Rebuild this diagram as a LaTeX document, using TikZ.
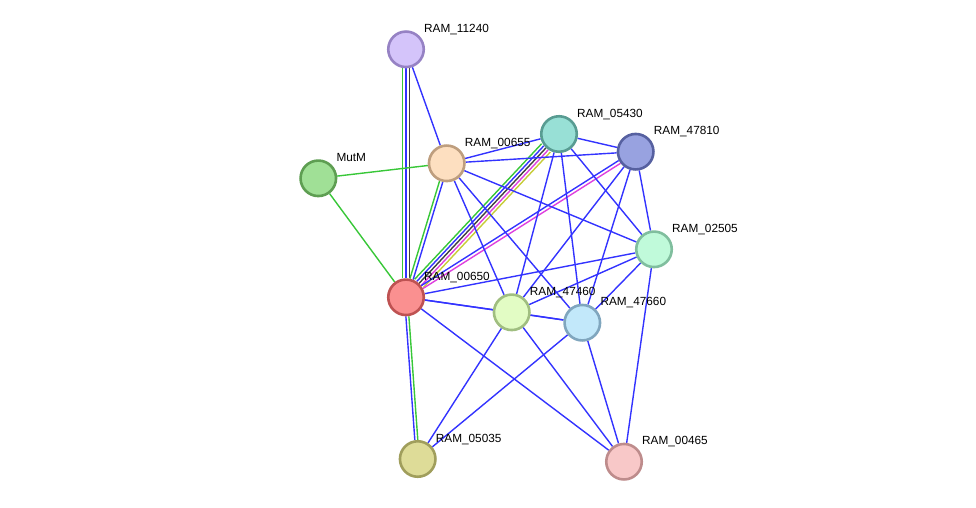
\documentclass[tikz,border=0pt]{standalone}
\usepackage{fontspec}
\setmainfont{Liberation Sans}
\usetikzlibrary{positioning, calc, backgrounds}
\definecolor{edgeblue}{rgb}{0.20, 0.20, 1.00}
\definecolor{edgegreen}{rgb}{0.22, 0.78, 0.22}
\definecolor{edgeblack}{rgb}{0.25, 0.25, 0.25}
\definecolor{edgemagenta}{rgb}{0.87, 0.25, 0.87}
\definecolor{edgeyellow}{rgb}{0.78, 0.80, 0.22}
\tikzset{
  prot/.style={circle, draw, minimum size=35.5pt, inner sep=0pt,
               line width=2.6pt},
  lbl/.style={font=\fontsize{11.8}{13}\selectfont, anchor=base west,
              inner sep=0pt, text=black},
  ev/.style={line width=1.4pt},
  ev blue/.style={ev, edgeblue},
  ev green/.style={ev, edgegreen},
  ev black/.style={ev, edgeblack},
  ev magenta/.style={ev, edgemagenta},
  ev yellow/.style={ev, edgeyellow},
  off/.style={transform canvas={shift={(#1)}}},
}

\begin{document}
\begin{tikzpicture}[x=1pt, y=-1pt]
    \useasboundingbox (0,0) rectangle (976,507);

    % proteins
    \node[prot, fill={rgb,255:red,212;green,196;blue,250}, draw={rgb,255:red,150;green,130;blue,196}] (p11240) at (406,49.3) {};
    \node[prot, fill={rgb,255:red,160;green,224;blue,150}, draw={rgb,255:red,94;green,158;blue,82}] (pmutm) at (318.3,178.3) {};
    \node[prot, fill={rgb,255:red,253;green,223;blue,192}, draw={rgb,255:red,190;green,158;blue,126}] (p00655) at (446.7,163.3) {};
    \node[prot, fill={rgb,255:red,152;green,224;blue,214}, draw={rgb,255:red,88;green,156;blue,146}] (p05430) at (559,134) {};
    \node[prot, fill={rgb,255:red,152;green,162;blue,224}, draw={rgb,255:red,86;green,96;blue,160}] (p47810) at (635.7,151.7) {};
    \node[prot, fill={rgb,255:red,192;green,250;blue,218}, draw={rgb,255:red,128;green,190;blue,158}] (p02505) at (654,249.3) {};
    \node[prot, fill={rgb,255:red,250;green,144;blue,144}, draw={rgb,255:red,190;green,82;blue,82}] (p00650) at (406,297.3) {};
    \node[prot, fill={rgb,255:red,226;green,252;blue,196}, draw={rgb,255:red,160;green,190;blue,128}] (p47460) at (511.7,312.3) {};
    \node[prot, fill={rgb,255:red,194;green,232;blue,250}, draw={rgb,255:red,128;green,166;blue,190}] (p47660) at (582.3,322.7) {};
    \node[prot, fill={rgb,255:red,222;green,220;blue,152}, draw={rgb,255:red,160;green,158;blue,92}] (p05035) at (417.7,459) {};
    \node[prot, fill={rgb,255:red,248;green,200;blue,200}, draw={rgb,255:red,190;green,140;blue,140}] (p00465) at (624,461.7) {};

    % labels
    \node[lbl] (l11240) at ($(p11240)+(18,-17)$) {RAM\_11240};
    \node[lbl] (lmutm) at ($(pmutm)+(18,-17)$) {MutM};
    \node[lbl] (l00655) at ($(p00655)+(18,-17)$) {RAM\_00655};
    \node[lbl] (l05430) at ($(p05430)+(18,-17)$) {RAM\_05430};
    \node[lbl] (l47810) at ($(p47810)+(18,-17)$) {RAM\_47810};
    \node[lbl] (l02505) at ($(p02505)+(18,-17)$) {RAM\_02505};
    \node[lbl] (l00650) at ($(p00650)+(18,-17)$) {RAM\_00650};
    \node[lbl] (l47460) at ($(p47460)+(18,-17)$) {RAM\_47460};
    \node[lbl] (l47660) at ($(p47660)+(18,-17)$) {RAM\_47660};
    \node[lbl] (l05035) at ($(p05035)+(18,-17)$) {RAM\_05035};
    \node[lbl] (l00465) at ($(p00465)+(18,-17)$) {RAM\_00465};

    \begin{scope}[on background layer]
    % multi-evidence edges
    \draw[ev green, off={-3.5,0}] (p11240) -- (p00650);
    \draw[ev blue] (p11240) -- (p00650);
    \draw[ev black, off={3.5,0}] (p11240) -- (p00650);
    \draw[ev green, off={-4.4,-4.1}] (p05430) -- (p00650);
    \draw[ev blue, off={-2.2,-2.05}] (p05430) -- (p00650);
    \draw[ev black] (p05430) -- (p00650);
    \draw[ev magenta, off={2.2,2.05}] (p05430) -- (p00650);
    \draw[ev yellow, off={4.4,4.1}] (p05430) -- (p00650);
    \draw[ev blue, off={-0.9,-1.4}] (p47810) -- (p00650);
    \draw[ev magenta, off={0.9,1.4}] (p47810) -- (p00650);
    \draw[ev green, off={-1.6,-0.5}] (p00655) -- (p00650);
    \draw[ev blue, off={1.6,0.5}] (p00655) -- (p00650);
    \draw[ev blue, off={-1.5,0}] (p00650) -- (p05035);
    \draw[ev green, off={1.5,0}] (p00650) -- (p05035);

    % single edges
    \draw[ev green] (pmutm) -- (p00655);
    \draw[ev green] (pmutm) -- (p00650);
    \draw[ev blue] (p11240) -- (p00655);
    \foreach \b in {p05430, p47810, p02505, p47460, p47660}
      \draw[ev blue] (p00655) -- (\b);
    \foreach \b in {p47810, p47460, p47660, p02505}
      \draw[ev blue] (p05430) -- (\b);
    \foreach \b in {p02505, p47460, p47660}
      \draw[ev blue] (p47810) -- (\b);
    \foreach \b in {p00650, p47460, p47660, p00465}
      \draw[ev blue] (p02505) -- (\b);
    \foreach \b in {p47460, p47660, p00465}
      \draw[ev blue] (p00650) -- (\b);
    \foreach \b in {p47660, p05035, p00465}
      \draw[ev blue] (p47460) -- (\b);
    \draw[ev blue] (p47660) -- (p05035);
    \draw[ev blue] (p47660) -- (p00465);
    \end{scope}
\end{tikzpicture}
\end{document}
